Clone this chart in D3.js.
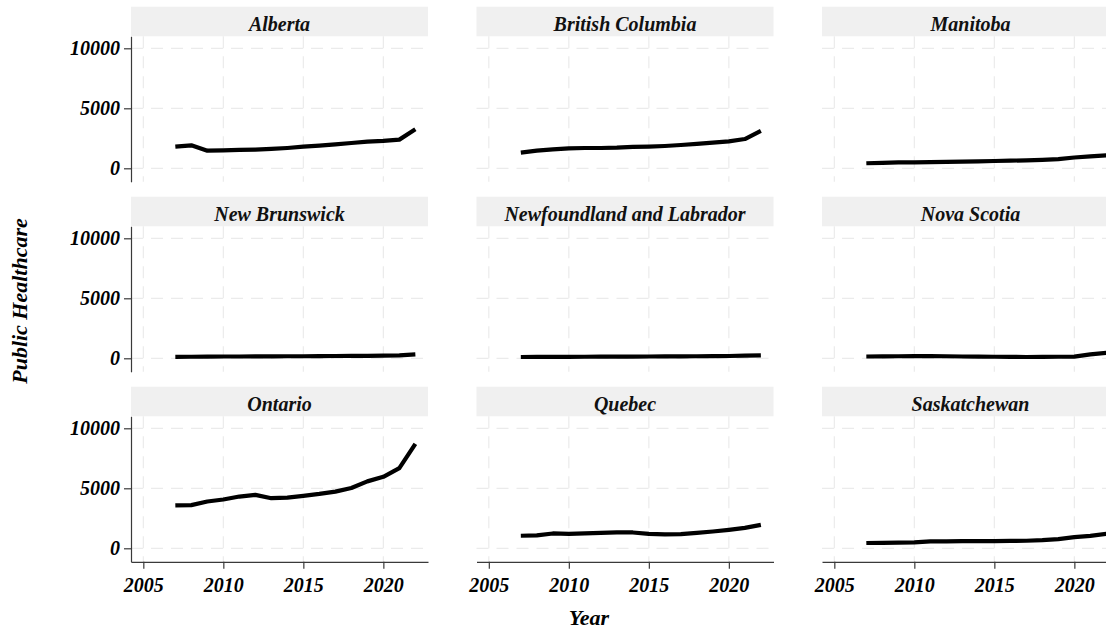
<!DOCTYPE html>
<html>
<head>
<meta charset="utf-8">
<script src="https://cdn.jsdelivr.net/npm/d3@7"></script>
<style>body{margin:0;background:#fff}</style>
</head>
<body>
<svg id="chart" width="1106" height="630"></svg>
<script>
// Public healthcare spending by province, 2007–2022
const years = [2007, 2008, 2009, 2010, 2011, 2012, 2013, 2014, 2015, 2016, 2017, 2018, 2019, 2020, 2021, 2022];

const provinces = ["Alberta", "British Columbia", "Manitoba",
                   "New Brunswick", "Newfoundland and Labrador", "Nova Scotia",
                   "Ontario", "Quebec", "Saskatchewan"];

const alberta         = [1806, 1917, 1472, 1500, 1528, 1555, 1611, 1694, 1806, 1889, 2000, 2111, 2222, 2278, 2389, 3250];
const britishColumbia = [1306, 1470, 1580, 1667, 1690, 1690, 1720, 1780, 1806, 1860, 1940, 2030, 2140, 2250, 2440, 3110];
const manitoba        = [420, 460, 490, 500, 520, 540, 560, 580, 610, 640, 660, 700, 760, 900, 1000, 1080];
const newBrunswick    = [120, 130, 140, 150, 150, 160, 160, 170, 170, 180, 190, 200, 210, 220, 250, 330];
const newfoundland    = [110, 115, 120, 125, 130, 135, 140, 145, 150, 155, 160, 170, 180, 190, 220, 250];
const novaScotia      = [150, 160, 170, 180, 190, 170, 150, 140, 130, 120, 110, 120, 130, 140, 330, 450];
const ontario         = [3571, 3600, 3900, 4066, 4313, 4450, 4176, 4230, 4370, 4530, 4725, 5027, 5577, 5960, 6676, 8709];
const quebec          = [1044, 1071, 1236, 1209, 1236, 1291, 1319, 1319, 1209, 1154, 1181, 1291, 1401, 1538, 1703, 1950];
const saskatchewan    = [440, 460, 480, 500, 570, 580, 590, 600, 605, 615, 630, 680, 770, 930, 1040, 1200];

const seriesValues = [alberta, britishColumbia, manitoba,
                      newBrunswick, newfoundland, novaScotia,
                      ontario, quebec, saskatchewan];

const xTicks = [2005, 2010, 2015, 2020];
const yTicks = [0, 5000, 10000];

const xTitle = "Year";
const yTitle = "Public Healthcare";

// Facet grid geometry
const nCols = 3;
const panelLeft0 = 131, colStep = 345.5, panelW = 297;
const rowTop0 = 6.7, rowStep = 190, stripH = 29.6, plotH = 145.5;

// bold italic serif for every label (inline, important priority)
function styleText(sel, size) {
  return sel
    .style("font-family", '"Liberation Serif", "Times New Roman", Times, serif', "important")
    .style("font-size", size + "px", "important")
    .style("font-weight", "bold", "important")
    .style("font-style", "italic", "important");
}

const svg = d3.select("#chart");

const x = d3.scaleLinear().domain([2004.23, 2022.79]).range([0, panelW]);
const y = d3.scaleLinear().domain([-1125, 11000]).range([plotH, 0]);

const line = d3.line()
  .x(d => x(d.year))
  .y(d => y(d.value));

const gridColor = "#ebebeb";
const axisColor = "#3a3a3a";

provinces.forEach((name, i) => {
  const col = i % nCols, row = Math.floor(i / nCols);
  const left = panelLeft0 + col * colStep;
  const stripTop = rowTop0 + row * rowStep;
  const plotTop = stripTop + stripH;

  // facet strip
  const strip = svg.append("g").attr("transform", `translate(${left},${stripTop})`);
  strip.append("rect")
    .attr("width", panelW).attr("height", stripH)
    .attr("fill", "#f0f0f0");
  styleText(strip.append("text"), 20)
    .attr("x", panelW / 2).attr("y", 24.5)
    .attr("text-anchor", "middle")
    .attr("fill", "#111")
    .text(name);

  const panel = svg.append("g").attr("transform", `translate(${left},${plotTop})`);

  // dashed major gridlines
  panel.append("g").selectAll("line").data(xTicks).join("line")
    .attr("x1", d => x(d)).attr("x2", d => x(d))
    .attr("y1", 0).attr("y2", plotH)
    .attr("stroke", gridColor).attr("stroke-width", 1.2)
    .attr("stroke-dasharray", "12,8");
  panel.append("g").selectAll("line").data(yTicks).join("line")
    .attr("x1", 0).attr("x2", panelW - 4)
    .attr("y1", d => y(d)).attr("y2", d => y(d))
    .attr("stroke", gridColor).attr("stroke-width", 1.2)
    .attr("stroke-dasharray", "12,8");

  // data line
  const pts = years.map((yr, k) => ({ year: yr, value: seriesValues[i][k] }));
  panel.append("path")
    .datum(pts)
    .attr("d", line)
    .attr("fill", "none")
    .attr("stroke", "#000")
    .attr("stroke-width", 4.2)
    .attr("stroke-linejoin", "round");

  // left axis on first column
  if (col === 0) {
    const ax = panel.append("g")
      .call(d3.axisLeft(y).tickValues(yTicks).tickFormat(d3.format("d"))
        .tickSize(7).tickSizeOuter(0).tickPadding(4));
    ax.attr("font-family", null).attr("font-size", null);
    ax.select(".domain").attr("stroke", axisColor).attr("stroke-width", 1.2);
    ax.selectAll(".tick line").attr("stroke", axisColor).attr("stroke-width", 1.2);
    styleText(ax.selectAll(".tick text"), 20).attr("fill", "#000");
  }

  // bottom axis on last row
  if (row === 2) {
    const ax = panel.append("g")
      .attr("transform", `translate(0,${plotH})`)
      .call(d3.axisBottom(x).tickValues(xTicks).tickFormat(d3.format("d"))
        .tickSize(7).tickSizeOuter(0).tickPadding(9));
    ax.attr("font-family", null).attr("font-size", null);
    ax.select(".domain").attr("stroke", axisColor).attr("stroke-width", 1.2);
    ax.selectAll(".tick line").attr("stroke", axisColor).attr("stroke-width", 1.2);
    styleText(ax.selectAll(".tick text"), 20).attr("fill", "#000");
  }
});

// axis titles
styleText(svg.append("text"), 22)
  .attr("x", 589).attr("y", 625)
  .attr("text-anchor", "middle")
  .attr("fill", "#000")
  .text(xTitle);

styleText(svg.append("text"), 22)
  .attr("transform", "translate(27,301) rotate(-90)")
  .attr("text-anchor", "middle")
  .attr("fill", "#000")
  .text(yTitle);
</script>
</body>
</html>
